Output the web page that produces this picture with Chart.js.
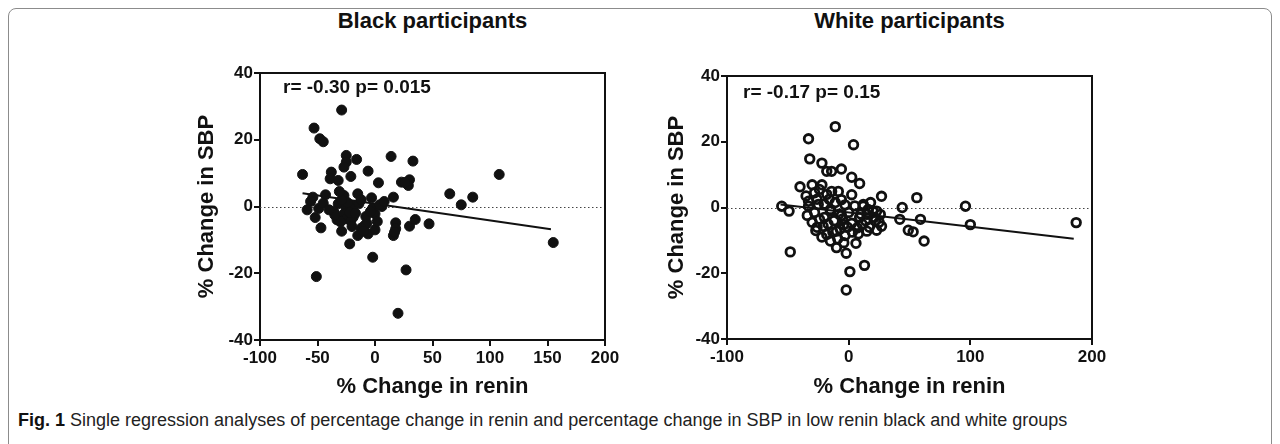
<!DOCTYPE html>
<html>
<head>
<meta charset="utf-8">
<script src="https://cdn.jsdelivr.net/npm/chart.js@4.4.0/dist/chart.umd.min.js"></script>
<style>
    html, body { margin: 0; padding: 0; background: #fff; }
    body { width: 1280px; height: 444px; position: relative; overflow: hidden; font-family: "Liberation Sans", Arial, sans-serif; }
    .frame { position: absolute; left: 8px; top: 8px; width: 1262px; height: 470px; border: 1px solid #8c8c8c; border-radius: 8px; }
    .panel-title { position: absolute; top: 8px; height: 28px; line-height: 28px; text-align: center; font: bold 22px "Liberation Sans Narrow", "Liberation Sans", Arial, sans-serif; color: #111; }
    .caption { position: absolute; left: 18px; top: 410px; font: 18px "Liberation Sans Narrow", "Liberation Sans", sans-serif; color: #222; white-space: nowrap; }
    .caption b { color: #111; }
    canvas { position: absolute; }
</style>
</head>
<body>
<div class="frame"></div>
<div class="panel-title" style="left:260px;width:345px;">Black participants</div>
<div class="panel-title" style="left:727px;width:365px;">White participants</div>
<canvas id="blackChart" width="450" height="340" style="left:180px;top:60px;"></canvas>
<canvas id="whiteChart" width="477" height="340" style="left:640px;top:60px;"></canvas>
<div class="caption"><b>Fig. 1</b> Single regression analyses of percentage change in renin and percentage change in SBP in low renin black and white groups</div>

<script>
// Black participants: % change in renin (x) vs % change in SBP (y)
const blackX = [-29, -53, -48, -45, -25, -16, -25, -27, 14, -63, -38, -39, -32, -21, -6, 3, 33, 23, 30, 29,
    26, 108, 65, 85, 75, -43, -27, -15, -3, 16, -54, -56, -59, -49, -32, -25, -19, -24, 6, -52,
    -33, -27, -25, -19, 0, -29, -2, 4, -47, -29, -15, -22, -9, -6, 0, -7, -2, -51, 20, 18,
    18, 16, 17, 30, 35, 47, 155, 27, -30, -21, -12, -36, -45, -10, -22, -14,
    -35, -31, -20, -17, -12, -8, -4, 8, 2, -40];
const blackY = [28.9, 23.5, 20.3, 19.4, 15.3, 14.1, 13.3, 11.8, 15.0, 9.6, 10.3, 8.3, 7.8, 9.0, 10.6, 7.1, 13.6, 7.3, 8.0, 6.3,
    7.2, 9.6, 3.8, 2.8, 0.5, 3.5, 3.3, 3.8, 2.6, 2.8, 2.8, 1.5, -1.0, -0.6, 0.8, -0.3, 0.2, 1.2, 0, -3.3,
    -4.0, -2.2, -3.7, -3.2, -2.2, 2.0, -0.5, 0.5, -6.4, -7.4, -8.7, -11.2, -5.7, -8.2, -7.0, -5.0, -15.2, -21.0, -32.0, -4.9,
    -6.7, -8.7, -7.7, -5.9, -3.9, -5.2, -10.8, -19.0, -4.6, -4.3, -6.5, -1.4, 1.0, -7.4, -1.8, 0.8,
    -2.5, 4.5, -6.0, -2.0, 2.0, -3.0, -1.5, 1.5, -4.5, -1.0];
const blackFitX = [-63, 153];
const blackFitY = [4.0, -6.8];
const blackStats = 'r= -0.30 p= 0.015';

// White participants
const whiteX = [-11, -33, 4, -32, -22, -18, -14, -6, 2.5, 9, -40, -30, -22, -24, -14, -8.5, 2.5, -6, 27, 56,
    -33, -25, -55, -49, -33, -15, 12, 16, 23, 44, -34, -24, -21, -15, -18, -15, -10, -10, -4, -2,
    6, -6, -4, 2.5, 7, 15, 23, 27, 12, 20, 15, 26, -48, 1, 13, -2, 42, 49, 53, 59,
    62, 96, 100, 187, -28, -20, -12, -8, 0, 5, 9, 18, 22, -26, -18, -11, -3, -7, -26, 10,
    -30, -27, -22, -17, -13, -9, -5, -1, 3, 8, 11, 14, 17, 21, 25, -35, -28, -20, -16, -3];
const whiteY = [24.6, 20.9, 19.1, 14.8, 13.5, 11.0, 11.0, 11.7, 9.2, 7.3, 6.3, 6.9, 6.9, 5.5, 4.9, 4.9, 3.9, 2.4, 3.4, 3.0,
    1.9, 0.9, 0.4, -1.1, 0.4, -0.6, 0.4, -0.6, -1.1, 0, -2.4, -3.6, -5.7, -1.1, -8.2, -10.2, -7.2, -12.2, -10.7, -13.9,
    -10.9, -2.4, -5.2, -4.8, -6.2, -7.2, -6.9, -5.7, 0.9, -1.1, -2.1, -2.1, -13.5, -19.5, -17.6, -25.1, -3.6, -6.9, -7.4, -3.6,
    -10.2, 0.4, -5.2, -4.6, -1.5, -3.0, -4.0, -2.0, -1.5, 0.5, -3.0, 1.5, -4.0, 2.5, 4.0, 1.5, -8.5, -6.5, -6.0, -2.0,
    -4.5, -7.0, -9.0, -5.0, -7.5, -9.5, -3.5, -6.0, -7.5, -8.0, -5.0, -4.0, -6.0, -3.0, -4.5, 3.5, 4.5, 1.0, 2.5, 0.8];
const whiteFitX = [-56, 185];
const whiteFitY = [0.9, -9.5];
const whiteStats = 'r= -0.17 p= 0.15';

const yTicks = [-40, -20, 0, 20, 40];
const blackXTicks = [-100, -50, 0, 50, 100, 150, 200];
const whiteXTicks = [-100, 0, 100, 200];

const tickFont = { family: '"Liberation Sans", Arial, sans-serif', size: 17, weight: 'bold' };
const titleFont = { family: '"Liberation Sans", Arial, sans-serif', size: 22, weight: 'bold' };

// dotted zero line, closed box, r/p text
const prismFrame = {
    id: 'prismFrame',
    beforeDatasetsDraw(chart) {
        const ctx = chart.ctx;
        const a = chart.chartArea;
        const y0 = Math.round(chart.scales.y.getPixelForValue(0)) + 0.5;
        ctx.save();
        ctx.strokeStyle = '#444';
        ctx.lineWidth = 1;
        ctx.setLineDash([1.5, 2.5]);
        ctx.beginPath();
        ctx.moveTo(a.left, y0);
        ctx.lineTo(a.right, y0);
        ctx.stroke();
        ctx.restore();
    },
    afterDraw(chart, args, opts) {
        const ctx = chart.ctx;
        const a = chart.chartArea;
        ctx.save();
        ctx.strokeStyle = '#111';
        ctx.lineWidth = 2;
        ctx.beginPath();
        ctx.moveTo(a.left - 1, a.top);
        ctx.lineTo(a.right, a.top);
        ctx.lineTo(a.right, a.bottom + 1);
        ctx.stroke();
        ctx.font = 'bold 19px "Liberation Sans", Arial, sans-serif';
        ctx.fillStyle = '#111';
        ctx.textBaseline = 'middle';
        ctx.fillText(opts.text, a.left + opts.dx, a.top + opts.dy);
        ctx.restore();
    }
};

function buildChart(id, xs, ys, fitX, fitY, xTicks, marker, box) {
    const points = xs.map(function(x, i) { return { x: x, y: ys[i] }; });
    const fit = fitX.map(function(x, i) { return { x: x, y: fitY[i] }; });

    return new Chart(document.getElementById(id), {
        type: 'scatter',
        data: {
            datasets: [{
                data: points,
                pointStyle: 'circle',
                pointRadius: marker.radius,
                pointBorderWidth: marker.border,
                pointBackgroundColor: marker.fill,
                pointBorderColor: '#111',
                pointHoverRadius: marker.radius
            }, {
                type: 'line',
                data: fit,
                borderColor: '#111',
                borderWidth: 2,
                pointRadius: 0,
                fill: false
            }]
        },
        options: {
            responsive: false,
            animation: false,
            layout: { padding: { top: box.top, right: box.right, left: 0, bottom: 0 } },
            plugins: {
                legend: { display: false },
                tooltip: { enabled: false },
                prismFrame: { text: box.text, dx: box.textDx, dy: box.textDy }
            },
            scales: {
                x: {
                    type: 'linear',
                    min: xTicks[0],
                    max: xTicks[xTicks.length - 1],
                    afterBuildTicks: function(scale) {
                        scale.ticks = xTicks.map(function(v) { return { value: v }; });
                    },
                    afterFit: function(scale) { scale.height = box.xHeight; },
                    border: { display: true, color: '#111', width: 2 },
                    grid: { drawOnChartArea: false, drawTicks: true, tickLength: 6, color: '#111', lineWidth: 2 },
                    ticks: { font: tickFont, color: '#111', padding: 2, maxRotation: 0 },
                    title: { display: true, text: '% Change in renin', font: titleFont, color: '#111', padding: { top: 0, bottom: 0 } }
                },
                y: {
                    min: yTicks[0],
                    max: yTicks[yTicks.length - 1],
                    afterBuildTicks: function(scale) {
                        scale.ticks = yTicks.map(function(v) { return { value: v }; });
                    },
                    afterFit: function(scale) { scale.width = box.yWidth; },
                    border: { display: true, color: '#111', width: 2 },
                    grid: { drawOnChartArea: false, drawTicks: true, tickLength: 6, color: '#111', lineWidth: 2 },
                    ticks: { font: tickFont, color: '#111', padding: 1 },
                    title: { display: true, text: '% Change in SBP', font: titleFont, color: '#111', padding: { top: box.yTitlePad, bottom: 0 } }
                }
            }
        },
        plugins: [prismFrame]
    });
}

buildChart('blackChart', blackX, blackY, blackFitX, blackFitY, blackXTicks,
    { radius: 5, border: 1, fill: '#111' },
    { top: 13, right: 25, xHeight: 60, yWidth: 80, yTitlePad: 14, text: blackStats, textDx: 23, textDy: 15 });

buildChart('whiteChart', whiteX, whiteY, whiteFitX, whiteFitY, whiteXTicks,
    { radius: 4.3, border: 2.8, fill: 'rgba(0,0,0,0)' },
    { top: 16, right: 25, xHeight: 61, yWidth: 87, yTitlePad: 24, text: whiteStats, textDx: 16, textDy: 17 });
</script>
</body>
</html>
